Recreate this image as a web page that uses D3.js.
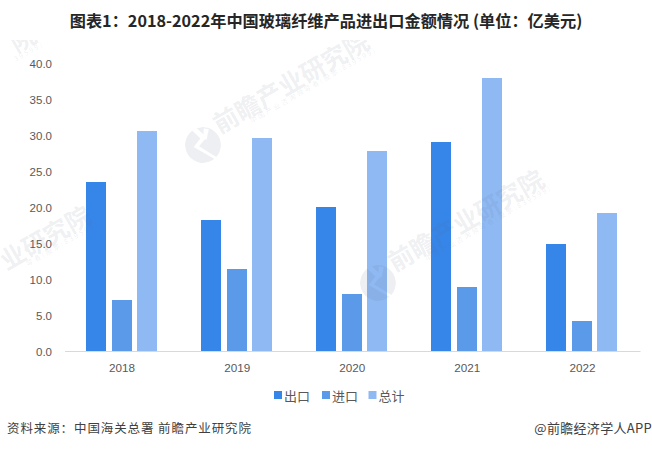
<!DOCTYPE html>
<html>
<head>
<meta charset="utf-8">
<script src="https://cdnjs.cloudflare.com/ajax/libs/d3/7.8.5/d3.min.js"></script>
<style>
  html, body { margin: 0; padding: 0; background: #fff; }
  text { font-family: "Noto Sans CJK SC", "Liberation Sans", sans-serif; }
</style>
</head>
<body>
<svg id="chart" width="652" height="450"></svg>
<script>
// ---------- data ----------
const years = ["2018", "2019", "2020", "2021", "2022"];
const seriesNames = ["出口", "进口", "总计"];
const exportValues = [23.5, 18.2, 20.0, 29.0, 14.9];
const importValues = [7.1, 11.4, 7.9, 8.9, 4.2];
const totalValues = [30.6, 29.6, 27.8, 37.9, 19.1];
const yTicks = [0, 5, 10, 15, 20, 25, 30, 35, 40];
const colors = ["#3685e8", "#5b99e9", "#8fb9f3"];
const barOffsets = [21.5, 47, 72.5];

const svg = d3.select("#chart");

// ---------- scales ----------
const x = d3.scaleBand().domain(years).range([64.5, 640]);
const y = d3.scaleLinear().domain([0, 40]).range([351, 63]);

// ---------- bars ----------
const allValues = [exportValues, importValues, totalValues];
seriesNames.forEach((name, i) => {
  svg.append("g")
    .attr("fill", colors[i])
    .attr("shape-rendering", "crispEdges")
    .selectAll("rect")
    .data(allValues[i])
    .join("rect")
    .attr("x", (d, j) => x(years[j]) + barOffsets[i])
    .attr("width", 20)
    .attr("y", (d) => y(d))
    .attr("height", (d) => y(0) - y(d));
});

// ---------- axes ----------
const xAxis = svg.append("g")
  .attr("transform", `translate(0,${y(0)})`)
  .call(d3.axisBottom(x).tickSize(0).tickPadding(13));
xAxis.select(".domain").attr("stroke", "#d9d9d9").attr("stroke-width", 1);
xAxis.selectAll("text")
  .attr("fill", "#595959")
  .style("font-size", "11.7px")
  .style("font-family", '"Liberation Sans", sans-serif');

const yAxis = svg.append("g")
  .attr("transform", "translate(64.5,1)")
  .call(d3.axisLeft(y).tickValues(yTicks).tickFormat(d3.format(".1f")).tickSize(0).tickPadding(12.5));
yAxis.select(".domain").remove();
yAxis.selectAll("text")
  .attr("fill", "#595959")
  .style("font-size", "11.5px")
  .style("font-family", '"Liberation Sans", sans-serif');

// ---------- watermarks, they lie over the bars in the reference ----------
svg.append("clipPath").attr("id", "wm-clip")
  .append("rect").attr("x", 0).attr("y", 40).attr("width", 652).attr("height", 410);

// logo is a disc with a slanted white notch cut out of it
const logoMask = svg.append("mask").attr("id", "logo-cut")
  .attr("maskUnits", "userSpaceOnUse")
  .attr("x", -20).attr("y", -20).attr("width", 40).attr("height", 40);
logoMask.append("circle").attr("r", 18).attr("fill", "#fff");
logoMask.append("path").attr("d", "M-2,-18 L1,-7 L-9,-3 L3,18 L6,18 L-4,-1 L7,-5 L3,-18 Z").attr("fill", "#000");
logoMask.append("path").attr("d", "M9,-14 L3,-5 L6,-3 L13,-11 Z").attr("fill", "#000");

const wmLayer = svg.append("g")
  .attr("clip-path", "url(#wm-clip)")
  .attr("fill", "#5f6b85")
  .attr("fill-opacity", 0.11);

function watermark(cx, cy, mainText, subText, showLogo) {
  const g = wmLayer.append("g")
    .attr("transform", `translate(${cx},${cy}) rotate(-30)`);
  if (showLogo) g.append("circle").attr("r", 18).attr("mask", "url(#logo-cut)");
  g.append("text").attr("x", 195).attr("y", -1)
    .attr("text-anchor", "end")
    .attr("font-size", 25).attr("font-weight", 700)
    .text(mainText);
  g.append("text").attr("x", 198).attr("y", 6)
    .attr("text-anchor", "end")
    .attr("font-size", 7).attr("letter-spacing", 1.9)
    .text(subText);
}
watermark(203, 145, "前瞻产业研究院", "中国产业咨询领导者(股票:839599)", true);
watermark(378, 283, "前瞻产业研究院", "中国产业咨询领导者(股票:839599)", true);
watermark(-75, 319, "业研究院", "导者(股票:839599)", false);
watermark(-130, 139, "院", "39599)", false);

// ---------- title ----------
svg.append("text")
  .attr("x", 326).attr("y", 27)
  .attr("text-anchor", "middle")
  .attr("font-size", 16.2).attr("font-weight", 700)
  .attr("fill", "#262626")
  .text("图表1：2018-2022年中国玻璃纤维产品进出口金额情况 (单位：亿美元)");

// ---------- legend ----------
const legendX = [274, 322, 368.5];
const legend = svg.append("g").selectAll("g")
  .data(seriesNames)
  .join("g")
  .attr("transform", (d, i) => `translate(${legendX[i]},391)`);
legend.append("rect")
  .attr("width", 8).attr("height", 8)
  .attr("fill", (d, i) => colors[i]);
legend.append("text")
  .attr("x", 10).attr("y", 9.5)
  .attr("font-size", 13).attr("fill", "#595959")
  .text((d) => d);

// ---------- footer ----------
svg.append("text")
  .attr("x", 7).attr("y", 433)
  .attr("font-size", 12.5).attr("letter-spacing", 0.9).attr("fill", "#404040")
  .text("资料来源：中国海关总署 前瞻产业研究院");
svg.append("text")
  .attr("x", 652).attr("y", 433)
  .attr("text-anchor", "end")
  .attr("font-size", 13).attr("letter-spacing", 0.3).attr("fill", "#404040")
  .text("@前瞻经济学人APP");
</script>
</body>
</html>
